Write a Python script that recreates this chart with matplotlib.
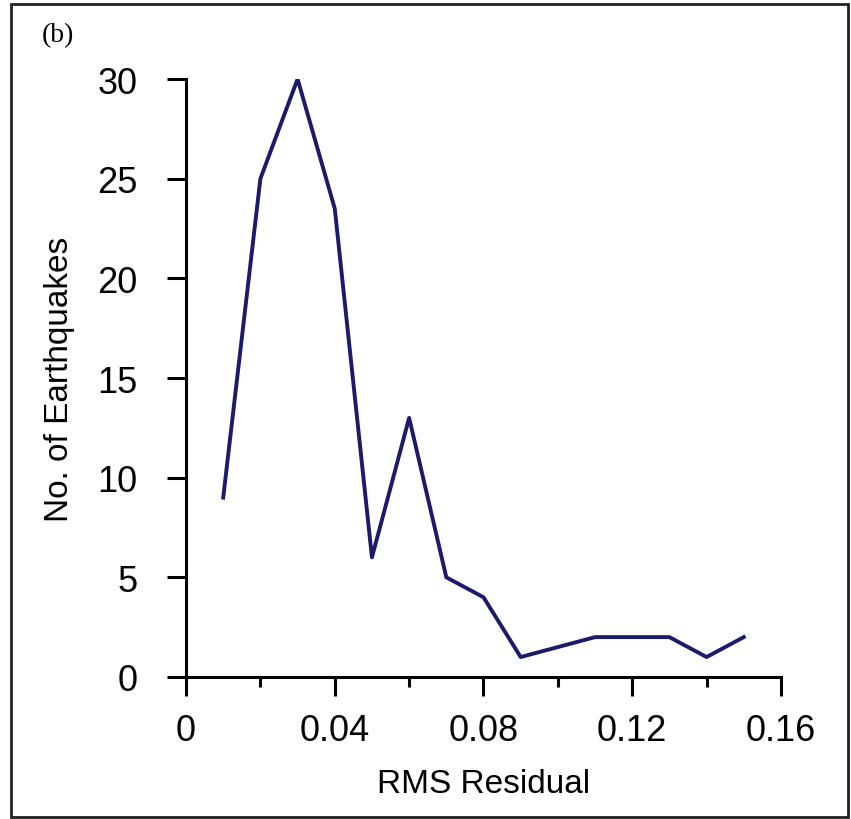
import matplotlib.pyplot as plt
from matplotlib.patches import Rectangle

plt.rcParams['font.family'] = ['Liberation Sans', 'DejaVu Sans']

# Datos
rms = [0.01, 0.02, 0.03, 0.04, 0.05, 0.06, 0.07, 0.08, 0.09, 0.10, 0.11, 0.12, 0.13, 0.14, 0.15]
n_eq = [9, 25, 30, 23.5, 6, 13, 5, 4, 1, 1.5, 2, 2, 2, 1, 2]
xticks = [0, 0.04, 0.08, 0.12, 0.16]
xtick_labels = ['0', '0.04', '0.08', '0.12', '0.16']
yticks = [0, 5, 10, 15, 20, 25, 30]

fig = plt.figure(figsize=(8.51, 8.20), dpi=100)
ax = fig.add_axes([0.2186, 0.1732, 0.6991, 0.7292])

ax.plot(rms, n_eq, color='#1c1a6a', linewidth=2.8)

ax.set_xlim(0, 0.16)
ax.set_ylim(0, 30)
ax.set_xticks(xticks)
ax.set_xticklabels(xtick_labels)
ax.set_xticks([0.02, 0.06, 0.10, 0.14], minor=True)
ax.set_yticks(yticks)

for s in ['top', 'right']:
    ax.spines[s].set_visible(False)
for s in ['left', 'bottom']:
    ax.spines[s].set_linewidth(2.2)

ax.tick_params(axis='both', which='major', direction='out', length=14, width=2.2,
               labelsize=26, colors='black')
ax.tick_params(axis='y', pad=21)
ax.tick_params(axis='x', pad=12)
ax.tick_params(axis='x', which='minor', direction='out', length=7, width=2.2)

ax.set_xlabel('RMS Residual', fontsize=24, labelpad=14)
ax.set_ylabel('No. of Earthquakes', fontsize=24, labelpad=16)

fig.text(0.049, 0.957, '(b)', family=['Liberation Serif', 'DejaVu Serif'],
         fontsize=20, va='center', ha='left')

# Marco exterior
fig.patches.append(Rectangle((11 / 851, 2 / 820), 837 / 851, 813 / 820,
                             transform=fig.transFigure, fill=False,
                             edgecolor='#222222', linewidth=2))

fig.savefig('out.png', dpi=100)
